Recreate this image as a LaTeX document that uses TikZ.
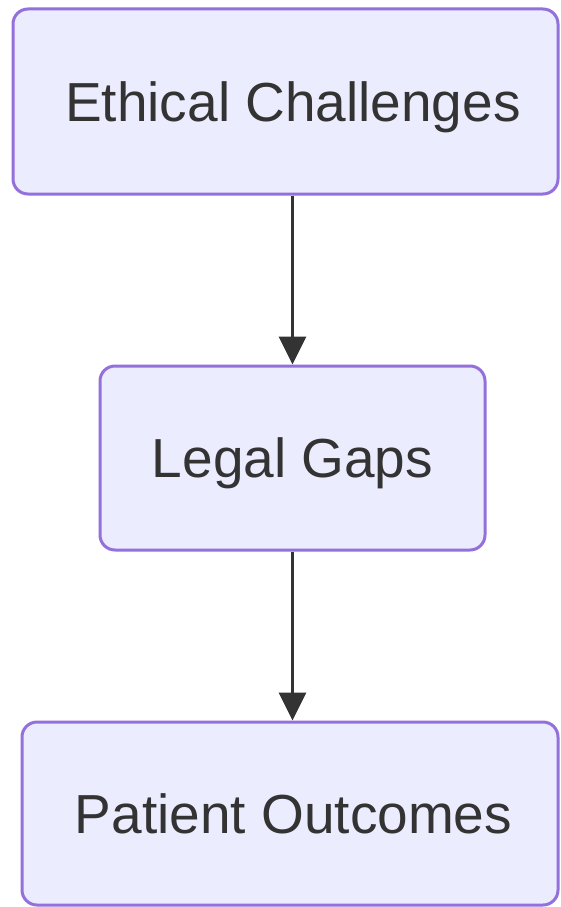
\documentclass[tikz,border=0pt]{standalone}
\usepackage{fontspec}
\setmainfont{Liberation Sans}
\usetikzlibrary{arrows.meta}
\definecolor{boxfill}{HTML}{ECECFF}
\definecolor{boxline}{HTML}{9370DB}
\definecolor{ink}{HTML}{333333}
\begin{document}
\begin{tikzpicture}[x=1pt,y=1pt,
  flowbox/.style={draw=boxline, fill=boxfill, line width=3pt, rounded corners=15pt,
    text=ink, font=\fontsize{55}{60}\selectfont, inner sep=0pt,
    text height=39.5pt, text depth=0pt},
  flowarrow/.style={draw=ink, line width=3pt, -{Triangle[width=27pt,length=28pt]}}]
\useasboundingbox (0,0) rectangle (560,-907);
\fill[white] (0,0) rectangle (560,-907);
\node[flowbox, minimum width=545pt, minimum height=185pt] (b1) at (285.5,-101.5) {\hspace*{15pt}Ethical Challenges};
\node[flowbox, minimum width=385pt, minimum height=184pt] (b2) at (292.5,-458) {Legal Gaps};
\node[flowbox, minimum width=536pt, minimum height=183pt] (b3) at (290,-813.5) {\hspace*{7pt}Patient Outcomes};
\draw[flowarrow] (b2.north |- b1.south) -- (b2.north);
\draw[flowarrow] (b2.south) -- (b2.south |- b3.north);
\end{tikzpicture}
\end{document}
